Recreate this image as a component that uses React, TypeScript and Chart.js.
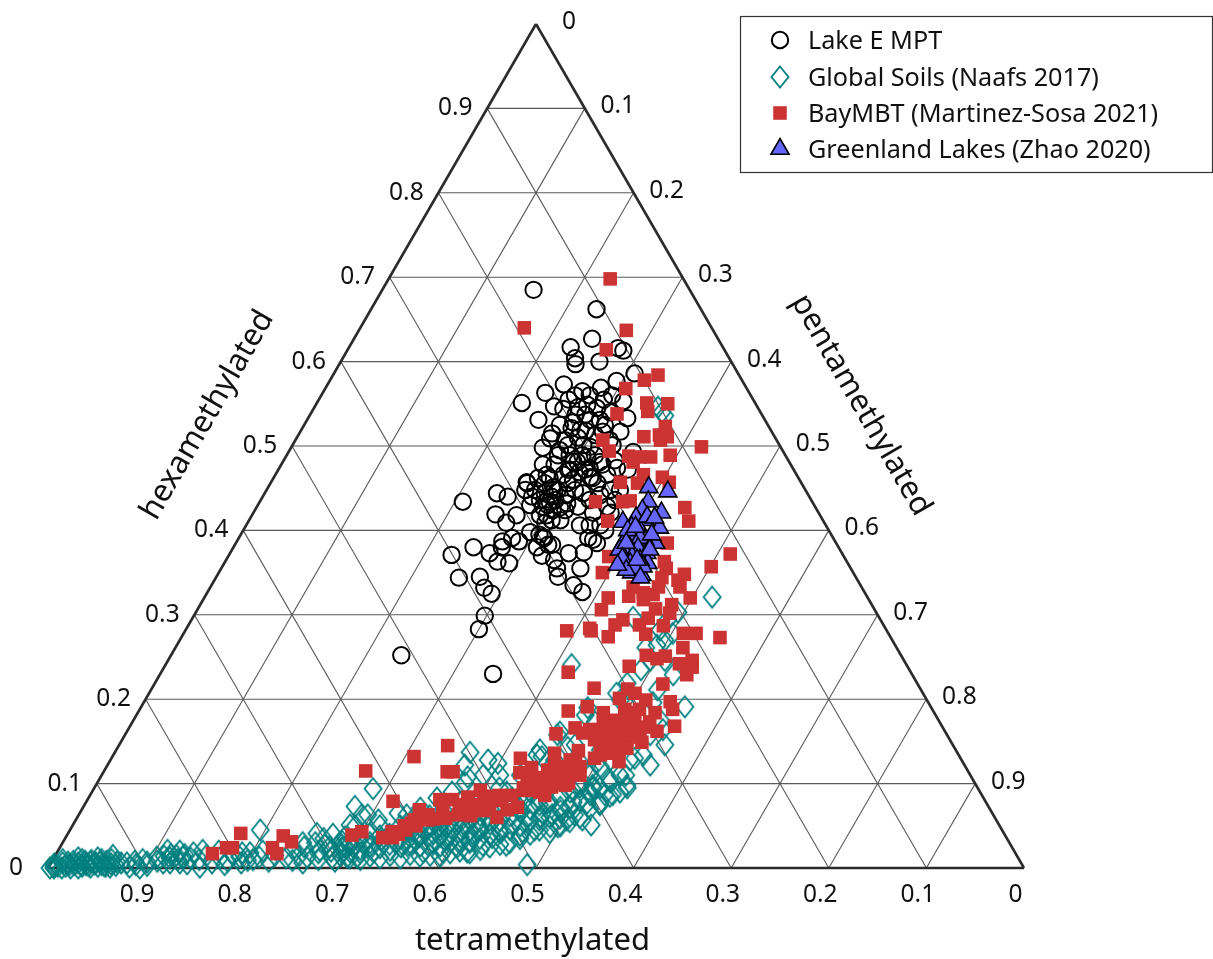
import React, { useEffect, useRef } from "react";
import { Chart, registerables } from "chart.js";
import { drawPoint } from "chart.js/helpers";

Chart.register(...registerables);

// every pair is [hexamethylated, pentamethylated]; tetramethylated is the remainder
const lakeEMpt: number[][] = [
[.685,.155],[.662,.231],[.627,.244],[.617,.227],[.604,.238],[.597,.242],[.600,.265],[.616,.276],[.613,.283],[.586,.308],[.577,.294],[.573,.242],[.563,.228],[.551,.210],[.565,.265],[.569,.282],[.553,.313],[.555,.256],[.547,.245],[.544,.256],[.546,.270],[.549,.278],[.545,.290],[.531,.237],[.528,.274],[.537,.282],[.531,.300],[.540,.306],[.533,.327],[.517,.328],[.521,.276],[.518,.292],[.515,.259],[.509,.260],[.498,.258],[.501,.282],[.501,.298],[.499,.306],[.517,.310],[.493,.353],[.489,.278],[.478,.280],[.481,.298],[.487,.309],[.481,.325],[.474,.346],[.478,.268],[.457,.262],[.462,.271],[.462,.283],[.466,.295],[.469,.310],[.462,.327],[.466,.340],
[.434,.208],[.444,.238],[.440,.251],[.419,.249],[.418,.271],[.409,.265],[.380,.246],[.371,.228],[.344,.249],[.373,.266],[.380,.275],[.387,.272],[.391,.280],[.387,.289],[.363,.279],[.361,.292],[.345,.270],[.332,.281],[.325,.292],[.299,.298],[.283,.300],[.252,.236],[.230,.341],[.398,.295],[.395,.306],[.391,.313],[.380,.311],[.370,.321],[.383,.325],[.365,.336],[.355,.344],[.345,.350],[.373,.347],[.374,.362],[.355,.368],[.335,.371],[.327,.384],[.391,.358],[.385,.370],[.389,.364],[.456,.263],[.448,.265],[.440,.276],[.444,.287],[.428,.293],[.434,.297],[.418,.302],[.412,.319],[.424,.305],[.409,.305],[.448,.298],[.456,.304],[.448,.316],[.432,.316],[.428,.329],[.406,.342],[.421,.348],[.406,.363],[.428,.359],[.444,.326],[.456,.335],[.448,.352],[.421,.366],[.466,.278],[.463,.324],[.451,.292],[.460,.308],[.440,.296],[.427,.311],[.383,.321],[.392,.311],
[.489,.303],[.472,.299],[.436,.302],[.474,.318],[.501,.328],[.442,.309],[.510,.288],[.495,.277],
[.537,.272],[.531,.290],[.525,.308],[.519,.286],[.513,.304],[.507,.322],[.472,.314],[.481,.302],[.472,.297],[.489,.316],[.478,.329],[.489,.290],[.507,.276],[.525,.262],[.560,.260],[.560,.275],[.560,.298],[.555,.292],[.448,.275],[.456,.281],[.436,.286],[.430,.297],[.448,.295],[.412,.310],[.418,.295],[.430,.279],[.424,.318],[.436,.337],[.442,.345],[.436,.363],[.406,.352],[.400,.371],[.448,.362],[.483,.339],[.472,.358]
];

const globalSoils: number[][] = [
[0,.002],[0,.006],[.002,.009],[0,.014],[.002,.017],[0,.023],[.004,.025],[0,.031],[.002,.034],[.004,.037],[.001,.043],[.005,.045],[.002,.050],[.004,.053],[.002,.058],[.001,.063],[.012,.025],[.007,.017],[.007,.040],[.007,.050],[.015,.059],[.006,.078],[.007,.067],[.001,.083],[0,.094],[.007,.098],[.013,.105],[.021,.112],[.012,.119],[.015,.124],[.013,.132],[.006,.115],[.006,.132],[.018,.140],[.001,.155],[.021,.148],[.004,.179],[.013,.190],[.045,.195],[.013,.210],[.018,.198],[.009,.246],[.013,.259],[.041,.255],[.030,.259],[.021,.268],[.025,.276],[.012,.285],[.024,.289],[.030,.246],[.009,.200],[.013,.300],
[.073,.278],[.094,.286],[.137,.364],[.122,.366],[.128,.387],[.124,.399],[.134,.434],[.158,.443],[.143,.461],[.095,.511],[.102,.525],[.087,.535],[.095,.546],[.051,.531],[.057,.519],[.049,.490],[.049,.498],[.004,.489],[.043,.465],[.027,.456],[.083,.357],[.101,.377],[.090,.369],[.071,.346],[.063,.336],[.065,.326],[.057,.310],[.063,.296],[.063,.290],[.051,.284],[.037,.286],[.013,.310],[.019,.300],[.019,.324],[.021,.340],[.027,.350],[.019,.375],[.019,.395],[.019,.420],[.027,.432],[.036,.437],[.025,.407],[.030,.379],[.039,.358],[.045,.379],[.045,.392],[.041,.415],[.045,.440],[.053,.450],[.057,.465],[.065,.474],[.072,.489],[.078,.499],[.057,.503],[.063,.485],[.057,.475],[.077,.514],[.077,.527],[.077,.473],[.092,.492],[.090,.425],[.110,.408],[.110,.391],[.108,.376],[.083,.434],[.071,.448],
[.057,.373],[.049,.384],[.041,.374],[.037,.404],[.053,.413],[.060,.420],[.053,.434],[.069,.411],[.045,.420],[.049,.400],[.045,.348],[.045,.366],[.037,.362],[.030,.341],[.033,.325],[.030,.310],[.025,.300],[.025,.291],[.018,.311],[.030,.315],[.027,.357],[.033,.390],[.030,.417],[.055,.389],[.053,.370],[.066,.374],[.039,.464],[.045,.476],[.059,.495],[.063,.508],[.087,.512],[.087,.527],[.081,.463],[.081,.448],
[.321,.520],[.241,.416],[.270,.497],[.264,.492],[.278,.501],[.303,.494],[.229,.526],[.219,.484],[.207,.479],[.211,.519],[.196,.522],[.191,.557],[.193,.497],[.190,.458],[.173,.474],[.161,.444],[.146,.559],[.164,.548],[.134,.543],[.130,.536],[.128,.532],[.124,.500],[.098,.544],[.098,.509],[.096,.497],[.297,.451],[.132,.440],[.116,.497],[.546,.352],[.540,.359],[.536,.364],[.282,.486],[.246,.494],[.294,.488],
[.015,.292],[.030,.284],[.012,.303],[.028,.295],[.010,.315],[.022,.309],[.035,.303],[.014,.323],[.026,.317],[.040,.310],[.012,.334],[.024,.328],[.038,.321],[.050,.315],[.015,.343],[.028,.336],[.040,.330],[.012,.355],[.025,.349],[.035,.344],[.050,.336],[.016,.363],[.030,.356],[.042,.350],[.055,.344],[.014,.374],[.026,.368],[.040,.361],[.050,.356],[.015,.384],[.028,.377],[.040,.371],[.052,.365],[.062,.360],[.014,.395],[.026,.389],[.038,.383],[.050,.377],[.065,.370],[.018,.403],[.030,.397],[.042,.391],[.055,.385],[.075,.375],[.020,.412],[.032,.406],[.045,.400],[.060,.392],[.078,.383],[.018,.423],[.032,.416],[.044,.410],[.058,.403],[.070,.397],[.022,.432],[.035,.425],[.048,.419],[.062,.412],[.080,.403],[.025,.440],[.040,.433],[.052,.427],[.070,.418],[.028,.449],[.042,.442],[.056,.435],[.072,.427],[.095,.415],[.030,.458],[.046,.450],[.062,.442],[.080,.433],[.035,.466],[.050,.459],[.066,.451],[.085,.441],[.040,.474],[.055,.466],[.070,.459],[.090,.449],[.045,.481],[.060,.474],[.075,.466],[.095,.456],[.042,.493],[.060,.484],[.078,.475],[.100,.464],[.050,.500],[.068,.491],[.085,.482],[.105,.472],[.055,.507],[.072,.499],[.090,.490],[.110,.480],[.060,.515],[.080,.505],[.100,.495],[.125,.483],[.070,.520],[.090,.510],[.110,.500],[.075,.528],[.095,.518],[.120,.506],[.085,.533],[.105,.523],[.090,.541],[.110,.531],
[.005,.004],[.006,.012],[.004,.020],[.008,.022],[.006,.028],[.004,.032],[.008,.034],[.009,.040],[.003,.040],[.006,.046],[.010,.050],[.003,.056],[.008,.056],[.005,.062],[.010,.060],[.003,.068],[.006,.072],[.002,.005],[.010,.010],[.010,.030],[.012,.045],[.004,.088],[.008,.085],[.003,.100],[.010,.092],[.008,.108],[.014,.112],[.006,.122],[.016,.118],[.010,.128],[.020,.125],[.005,.140],[.012,.140],[.016,.132],[.010,.150],[.015,.155],[.006,.165],[.012,.170],[.020,.165],[.008,.180],[.015,.182],[.006,.195],[.018,.190],[.010,.205],[.020,.210],[.008,.222],[.015,.225],[.012,.238],[.022,.240],[.025,.250],[.015,.250],[.006,.258],[.018,.268],[.035,.265],[.010,.272],[.028,.270],[.020,.280],[.040,.272],[.008,.290],[.032,.285],[.018,.292],[.050,.290],
[.199,.487],[.175,.509],[.158,.538],[.175,.540],[.128,.512],[.122,.556],[.110,.537],[.140,.496],[.261,.482],[.246,.509],[.235,.490],[.146,.467],[.181,.460],[.140,.434],[.128,.455],[.110,.429]
];

const bayMbt: number[][] = [
[.698,.227],[.640,.168],[.637,.274],[.614,.265],[.584,.333],[.578,.322],[.568,.308],[.551,.338],[.550,.360],[.541,.344],[.538,.314],[.523,.371],[.513,.370],[.511,.379],[.507,.374],[.511,.355],[.507,.315],[.494,.328],[.499,.420],[.489,.393],[.488,.351],[.487,.363],[.487,.374],[.481,.359],[.466,.377],[.463,.398],[.457,.408],[.457,.358],[.434,.344],[.411,.368],[.369,.390],[.350,.393],[.320,.414],[.306,.414],[.281,.391],[.284,.413],[.281,.416],[.288,.437],[.274,.437],[.232,.417],[.213,.453],[.456,.376],[.434,.372],[.435,.379],[.427,.439],[.411,.451],[.385,.442],[.372,.513],[.357,.501],[.363,.450],[.355,.456],[.348,.478],[.341,.475],[.333,.481],[.344,.457],[.333,.459],[.333,.433],[.322,.434],[.326,.447],[.320,.498],[.318,.451],[.312,.483],[.302,.486],[.307,.469],[.294,.442],[.324,.458],[.296,.467],[.287,.487],[.288,.462],[.277,.474],[.278,.512],[.278,.525],[.273,.552],[.261,.520],[.252,.487],[.248,.500],[.251,.507],[.242,.526],[.246,.537],[.238,.541],[.229,.540],[.239,.476],[.218,.521],[.212,.488],[.207,.498],[.201,.485],[.199,.513],[.197,.539],[.188,.546],[.186,.440],[.191,.457],[.184,.477],[.184,.530],[.168,.558],[.162,.543],[.184,.509],[.166,.457],[.160,.468],[.159,.441],[.175,.491],[.172,.503],[.172,.515],[.167,.528],[.172,.483],[.164,.494],[.160,.506],[.160,.516],[.155,.529],[.152,.484],[.149,.496],[.148,.507],[.152,.517],[.149,.534],[.130,.495],[.136,.511],[.126,.522],[.139,.474],[.136,.451],[.120,.485],[.120,.468],[.120,.459],[.110,.490],[.108,.478],[.102,.466],[.101,.459],[.098,.481],[.152,.503],[.101,.483],[.101,.469],[.119,.472],
[.115,.268],[.132,.309],[.145,.337],[.114,.352],[.114,.358],[.079,.314],[.130,.419],[.119,.436],[.113,.427],[.107,.451],[.104,.439],[.092,.441],[.090,.459],[.096,.468],[.072,.445],[.069,.436],[.060,.430],[.086,.420],[.085,.408],[.092,.397],[.084,.388],[.081,.374],[.063,.389],[.066,.399],[.083,.405],[.071,.369],[.063,.358],[.057,.361],[.053,.346],[.045,.344],[.043,.331],[.036,.325],[.036,.335],[.043,.300],[.039,.292],[.041,.177],[.017,.160],[.024,.171],[.024,.177],[.024,.218],[.017,.226],[.038,.222],[.031,.234],
[.164,.481],[.158,.495],[.169,.499],[.164,.512],[.164,.521],[.173,.530],[.188,.497],[.188,.512],[.140,.511],[.142,.495],[.142,.522],[.164,.473],[.134,.499],[.098,.455],[.116,.454],[.128,.471],[.116,.479],[.110,.470],[.092,.448],[.086,.466],[.086,.432],[.075,.415],[.075,.400],[.081,.361],[.075,.384],[.059,.378],[.069,.346],[.057,.347],
[.075,.393],[.068,.412],[.062,.402],[.080,.425],[.058,.366],[.050,.352],[.040,.339],[.050,.340],[.095,.440],[.105,.452],[.115,.462],[.125,.478]
];

const greenlandLakes: number[][] = [
[.451,.390],[.446,.412],[.434,.398],[.421,.418],[.410,.384],[.403,.425],[.424,.397],[.415,.395],[.412,.406],[.404,.396],[.401,.406],[.385,.430],[.389,.417],[.392,.397],[.389,.405],[.391,.411],[.385,.397],[.379,.407],[.379,.415],[.373,.427],[.373,.405],[.369,.414],[.361,.407],[.361,.416],[.361,.434],[.365,.424],[.350,.423],[.347,.435],[.357,.431],[.355,.424],[.377,.397],[.416,.406],[.415,.414],
[.400,.394],[.404,.400],[.385,.400],[.367,.405],[.353,.416],[.365,.421],[.377,.428],[.395,.421],[.359,.404],[.344,.435]
];

const axisTicks = [0.1, 0.2, 0.3, 0.4, 0.5, 0.6, 0.7, 0.8, 0.9];
const tickLabelsAll = ["0", ...axisTicks.map((t) => t.toFixed(1))];
const axisTitles = { bottom: "tetramethylated", left: "hexamethylated", right: "pentamethylated" };
const seriesNames = ["Lake E MPT", "Global Soils (Naafs 2017)", "BayMBT (Martinez-Sosa 2021)", "Greenland Lakes (Zhao 2020)"];

const TEAL = "#008080";
const RED = "#cc3333";
const BLUE = "#6666ff";
const FONT = '"Noto Sans"';

// a diamond a little taller than wide, which the built-in rectRot cannot give
function makeDiamond(): HTMLCanvasElement {
  const c = document.createElement("canvas");
  c.width = 22;
  c.height = 26;
  const g = c.getContext("2d") as CanvasRenderingContext2D;
  g.strokeStyle = TEAL;
  g.lineWidth = 1.8;
  g.beginPath();
  g.moveTo(11, 2.5);
  g.lineTo(19.5, 13);
  g.lineTo(11, 23.5);
  g.lineTo(2.5, 13);
  g.closePath();
  g.stroke();
  return c;
}

const toXY = ([hexa, penta]: number[]) => ({ x: penta + hexa / 2, y: hexa });
const pt = (hexa: number, penta: number) => toXY([hexa, penta]);

const lineDataset = (label: string, a: object, b: object, color: string, width: number, order: number) => ({
  type: "scatter",
  label,
  data: [a, b],
  showLine: true,
  borderColor: color,
  borderWidth: width,
  pointRadius: 0,
  clip: false,
  order,
});

export default function App() {
  const ref = useRef<HTMLCanvasElement>(null);
  useEffect(() => {
    const diamond = makeDiamond();
    const seriesStyles: any[] = [
      { pointStyle: "circle", pointRadius: 8.2, pointBackgroundColor: "rgba(0,0,0,0)", pointBorderColor: "#000", pointBorderWidth: 2 },
      { pointStyle: diamond, pointRadius: 10, pointBackgroundColor: "rgba(0,0,0,0)", pointBorderColor: TEAL, pointBorderWidth: 1.8 },
      { pointStyle: "rect", pointRadius: 9.6, pointBackgroundColor: RED, pointBorderColor: RED, pointBorderWidth: 0 },
      { pointStyle: "triangle", pointRadius: 10.5, pointBackgroundColor: BLUE, pointBorderColor: "#000", pointBorderWidth: 1.6 },
    ];
    const grid = axisTicks.flatMap((t) => [
      lineDataset("grid", pt(t, 0), pt(t, 1 - t), "#5a5a5a", 1.1, 6),
      lineDataset("grid", pt(0, t), pt(1 - t, t), "#5a5a5a", 1.1, 6),
      lineDataset("grid", pt(0, 1 - t), pt(1 - t, 0), "#5a5a5a", 1.1, 6),
    ]);
    const frame = [
      lineDataset("frame", pt(0, 0), pt(0, 1), "#2b2b2b", 2.6, 5),
      lineDataset("frame", pt(0, 1), pt(1, 0), "#2b2b2b", 2.6, 5),
      lineDataset("frame", pt(1, 0), pt(0, 0), "#2b2b2b", 2.6, 5),
    ];
    const series = [lakeEMpt, globalSoils, bayMbt, greenlandLakes].map((rows, i) => ({
      type: "scatter",
      label: seriesNames[i],
      data: rows.map(toXY),
      clip: false,
      order: [3, 2, 1, 0][i],
      ...seriesStyles[i],
    }));

    const labels = {
      id: "ternaryText",
      afterDraw(chart: any) {
        const { ctx, scales } = chart;
        const X = (p: { x: number; y: number }) => scales.x.getPixelForValue(p.x);
        const Y = (p: { x: number; y: number }) => scales.y.getPixelForValue(p.y);
        ctx.save();
        ctx.fillStyle = "#111";
        ctx.textAlign = "center";
        ctx.textBaseline = "middle";
        ctx.font = `24.5px ${FONT}`;
        const ticks = [0, ...axisTicks];
        ticks.forEach((t, i) => {
          const text = tickLabelsAll[i];
          const b = pt(0, 1 - t); // tetramethylated = t
          ctx.fillText(text, X(b) - 8.5, Y(b) + 27);
          const r = pt(1 - t, t); // pentamethylated = t
          ctx.fillText(text, X(r) + 33, Y(r) - 2);
          const l = pt(t, 0); // hexamethylated = t
          ctx.fillText(text, X(l) - 32, Y(l));
        });
        ctx.font = `31px ${FONT}`;
        ctx.fillText(axisTitles.bottom, 532.5, 941);
        ctx.save();
        ctx.translate(207.5, 415);
        ctx.rotate(-Math.PI / 3);
        ctx.fillText(axisTitles.left, 0, 0);
        ctx.restore();
        ctx.save();
        ctx.translate(861, 405);
        ctx.rotate(Math.PI / 3);
        ctx.fillText(axisTitles.right, 0, 0);
        ctx.restore();

        // legend
        ctx.fillStyle = "#fff";
        ctx.strokeStyle = "#333";
        ctx.lineWidth = 1.2;
        ctx.fillRect(740.5, 16.5, 472, 156);
        ctx.strokeRect(740.5, 16.5, 472, 156);
        ctx.font = `25.2px ${FONT}`;
        ctx.textAlign = "left";
        const rowsY = [42, 79, 115, 151];
        seriesNames.forEach((name, i) => {
          const s = seriesStyles[i];
          ctx.fillStyle = s.pointBackgroundColor;
          ctx.strokeStyle = s.pointBorderColor;
          ctx.lineWidth = s.pointBorderWidth;
          drawPoint(ctx, { pointStyle: s.pointStyle, radius: s.pointRadius, rotation: 0, borderWidth: s.pointBorderWidth } as any, 780, rowsY[i] - 2);
          ctx.fillStyle = "#111";
          ctx.fillText(name, 808, rowsY[i]);
        });
        ctx.restore();
      },
    };

    const chart = new Chart(ref.current as HTMLCanvasElement, {
      type: "scatter",
      data: { datasets: [...series, ...frame, ...grid] as any },
      options: {
        animation: false,
        responsive: false,
        layout: { padding: { left: 48, right: 189, top: 24, bottom: 91 } },
        scales: {
          x: { type: "linear", min: 0, max: 1, display: false },
          y: { type: "linear", min: 0, max: 1, display: false },
        },
        plugins: { legend: { display: false }, tooltip: { enabled: false }, title: { display: false } },
      },
      plugins: [labels],
    });
    return () => chart.destroy();
  }, []);
  return (
    <div style={{ position: "absolute", left: 0, top: 0, width: 1213, height: 959, background: "#fff" }}>
      <canvas ref={ref} width={1213} height={959} style={{ display: "block" }} />
    </div>
  );
}
